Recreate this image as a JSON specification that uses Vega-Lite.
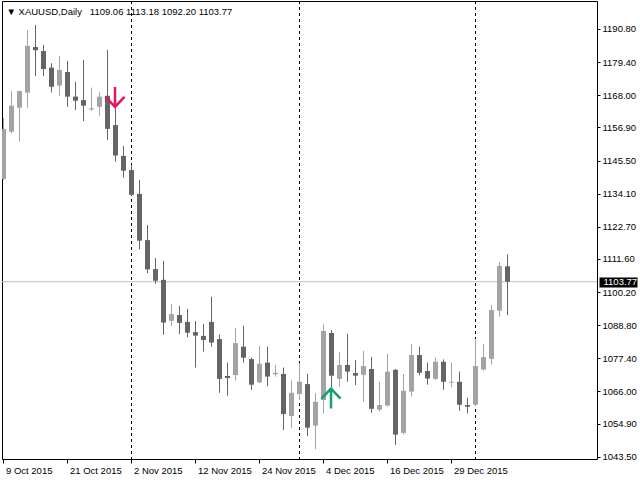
{
  "$schema": "https://vega.github.io/schema/vega-lite/v6.json",
  "width": 595,
  "height": 458,
  "autosize": "none",
  "padding": {"left": 2, "top": 1, "right": 43, "bottom": 21},
  "background": "white",
  "title": {
    "text": "▼ XAUUSD,Daily\u00a0\u00a0\u00a01109.06 1113.18 1092.20 1103.77",
    "anchor": "start",
    "frame": "group",
    "offset": -13.5,
    "dy": 10.5,
    "baseline": "alphabetic",
    "dx": 4.5,
    "font": "Liberation Sans",
    "fontSize": 9.5,
    "fontWeight": "normal",
    "color": "black"
  },
  "data": {
    "values": [
      {"date": "2015-10-09", "o": 1139.1, "h": 1160.1, "l": 1138.8, "c": 1156.4},
      {"date": "2015-10-12", "o": 1155.4, "h": 1169.4, "l": 1154.9, "c": 1164.4},
      {"date": "2015-10-13", "o": 1163.7, "h": 1169.6, "l": 1152.0, "c": 1169.4},
      {"date": "2015-10-14", "o": 1168.9, "h": 1190.5, "l": 1163.7, "c": 1185.0},
      {"date": "2015-10-15", "o": 1184.6, "h": 1192.2, "l": 1174.6, "c": 1183.5},
      {"date": "2015-10-16", "o": 1183.2, "h": 1185.3, "l": 1174.6, "c": 1177.0},
      {"date": "2015-10-19", "o": 1177.5, "h": 1179.0, "l": 1168.9, "c": 1170.9},
      {"date": "2015-10-20", "o": 1171.3, "h": 1181.5, "l": 1167.8, "c": 1176.7},
      {"date": "2015-10-21", "o": 1176.0, "h": 1179.8, "l": 1164.0, "c": 1167.5},
      {"date": "2015-10-22", "o": 1167.5, "h": 1172.6, "l": 1162.9, "c": 1166.1},
      {"date": "2015-10-23", "o": 1166.3, "h": 1180.1, "l": 1159.1, "c": 1164.4},
      {"date": "2015-10-26", "o": 1163.1, "h": 1170.6, "l": 1162.6, "c": 1163.5},
      {"date": "2015-10-27", "o": 1164.0, "h": 1169.2, "l": 1160.9, "c": 1167.5},
      {"date": "2015-10-28", "o": 1167.8, "h": 1183.6, "l": 1152.6, "c": 1156.4},
      {"date": "2015-10-29", "o": 1157.7, "h": 1163.5, "l": 1145.1, "c": 1147.2},
      {"date": "2015-10-30", "o": 1147.1, "h": 1150.5, "l": 1139.6, "c": 1142.0},
      {"date": "2015-11-02", "o": 1142.2, "h": 1144.0, "l": 1133.4, "c": 1133.7},
      {"date": "2015-11-03", "o": 1134.0, "h": 1138.8, "l": 1114.9, "c": 1117.9},
      {"date": "2015-11-04", "o": 1118.1, "h": 1123.3, "l": 1106.7, "c": 1108.0},
      {"date": "2015-11-05", "o": 1108.1, "h": 1111.9, "l": 1103.0, "c": 1104.1},
      {"date": "2015-11-06", "o": 1104.4, "h": 1110.9, "l": 1085.5, "c": 1089.7},
      {"date": "2015-11-09", "o": 1090.3, "h": 1096.1, "l": 1088.6, "c": 1092.6},
      {"date": "2015-11-10", "o": 1092.3, "h": 1095.4, "l": 1085.7, "c": 1089.6},
      {"date": "2015-11-11", "o": 1089.9, "h": 1094.4, "l": 1084.6, "c": 1086.2},
      {"date": "2015-11-12", "o": 1086.4, "h": 1090.2, "l": 1074.2, "c": 1085.2},
      {"date": "2015-11-13", "o": 1085.1, "h": 1089.2, "l": 1079.7, "c": 1083.7},
      {"date": "2015-11-16", "o": 1089.9, "h": 1098.6, "l": 1081.4, "c": 1082.8},
      {"date": "2015-11-17", "o": 1084.0, "h": 1085.6, "l": 1065.5, "c": 1070.3},
      {"date": "2015-11-18", "o": 1071.3, "h": 1075.9, "l": 1064.5, "c": 1070.6},
      {"date": "2015-11-19", "o": 1071.6, "h": 1087.9, "l": 1069.7, "c": 1082.6},
      {"date": "2015-11-20", "o": 1081.4, "h": 1088.6, "l": 1075.9, "c": 1077.6},
      {"date": "2015-11-23", "o": 1077.1, "h": 1077.6, "l": 1066.5, "c": 1068.3},
      {"date": "2015-11-24", "o": 1069.1, "h": 1081.6, "l": 1068.8, "c": 1075.5},
      {"date": "2015-11-25", "o": 1075.9, "h": 1081.4, "l": 1067.8, "c": 1071.1},
      {"date": "2015-11-26", "o": 1071.9, "h": 1075.1, "l": 1071.1, "c": 1072.4},
      {"date": "2015-11-27", "o": 1072.0, "h": 1074.2, "l": 1052.7, "c": 1058.2},
      {"date": "2015-11-30", "o": 1057.5, "h": 1069.9, "l": 1053.3, "c": 1065.5},
      {"date": "2015-12-01", "o": 1065.1, "h": 1075.7, "l": 1063.0, "c": 1069.3},
      {"date": "2015-12-02", "o": 1068.5, "h": 1072.0, "l": 1050.6, "c": 1053.5},
      {"date": "2015-12-03", "o": 1054.2, "h": 1065.4, "l": 1046.1, "c": 1062.4},
      {"date": "2015-12-04", "o": 1063.0, "h": 1089.2, "l": 1058.4, "c": 1086.8},
      {"date": "2015-12-07", "o": 1086.1, "h": 1087.1, "l": 1067.5, "c": 1071.4},
      {"date": "2015-12-08", "o": 1070.3, "h": 1079.6, "l": 1067.6, "c": 1075.1},
      {"date": "2015-12-09", "o": 1075.1, "h": 1085.8, "l": 1069.3, "c": 1072.8},
      {"date": "2015-12-10", "o": 1072.3, "h": 1076.8, "l": 1068.2, "c": 1071.4},
      {"date": "2015-12-11", "o": 1071.7, "h": 1079.9, "l": 1062.4, "c": 1074.7},
      {"date": "2015-12-14", "o": 1073.7, "h": 1077.8, "l": 1058.6, "c": 1060.0},
      {"date": "2015-12-15", "o": 1059.7, "h": 1069.3, "l": 1059.1, "c": 1061.3},
      {"date": "2015-12-16", "o": 1061.1, "h": 1079.0, "l": 1060.8, "c": 1072.8},
      {"date": "2015-12-17", "o": 1073.4, "h": 1073.7, "l": 1047.6, "c": 1051.1},
      {"date": "2015-12-18", "o": 1051.7, "h": 1072.0, "l": 1051.1, "c": 1066.2},
      {"date": "2015-12-21", "o": 1065.9, "h": 1082.3, "l": 1064.2, "c": 1078.5},
      {"date": "2015-12-22", "o": 1078.5, "h": 1081.4, "l": 1071.5, "c": 1072.4},
      {"date": "2015-12-23", "o": 1073.0, "h": 1075.9, "l": 1068.3, "c": 1070.4},
      {"date": "2015-12-24", "o": 1070.3, "h": 1077.6, "l": 1069.9, "c": 1076.2},
      {"date": "2015-12-28", "o": 1076.2, "h": 1077.0, "l": 1066.5, "c": 1069.3},
      {"date": "2015-12-29", "o": 1069.0, "h": 1075.9, "l": 1067.4, "c": 1069.3},
      {"date": "2015-12-30", "o": 1069.3, "h": 1072.8, "l": 1059.3, "c": 1061.4},
      {"date": "2015-12-31", "o": 1061.3, "h": 1063.8, "l": 1058.4, "c": 1060.7},
      {"date": "2016-01-04", "o": 1061.4, "h": 1084.1, "l": 1061.0, "c": 1074.7},
      {"date": "2016-01-05", "o": 1073.5, "h": 1082.3, "l": 1073.2, "c": 1077.8},
      {"date": "2016-01-06", "o": 1077.2, "h": 1095.7, "l": 1075.2, "c": 1094.0},
      {"date": "2016-01-07", "o": 1093.8, "h": 1110.6, "l": 1091.7, "c": 1109.2},
      {"date": "2016-01-08", "o": 1109.06, "h": 1113.18, "l": 1092.20, "c": 1103.77}
    ]
  },
  "layer": [
    {
      "data": {"values": [{"date": "2015-11-02"}, {"date": "2015-12-01"}, {"date": "2016-01-04"}]},
      "mark": {"type": "rule", "color": "black", "strokeWidth": 1, "strokeDash": [3, 3], "xOffset": -2.5},
      "encoding": {
        "x": {"field": "date", "type": "ordinal", "timeUnit": "utcyearmonthdate"}
      }
    },
    {
      "data": {"values": [{"p": 1103.77}]},
      "mark": {"type": "rule", "color": "#c0c0c0", "strokeWidth": 1},
      "encoding": {
        "y": {
          "field": "p",
          "type": "quantitative",
          "axis": {
            "orient": "right",
            "values": [1103.77],
            "format": ".2f",
            "offset": 2,
            "tickSize": 38,
            "tickWidth": 10,
            "tickColor": "black",
            "labelColor": "white",
            "labelPadding": -34,
            "labelFlush": false,
            "domain": false,
            "grid": false,
            "title": null
          }
        }
      }
    },
    {
      "mark": {"type": "rule", "strokeWidth": 1, "xOffset": -2.5, "clip": true},
      "encoding": {
        "x": {
          "field": "date",
          "type": "ordinal",
          "timeUnit": "utcyearmonthdate",
          "scale": {"type": "band", "paddingInner": 0, "paddingOuter": 0, "range": [0, 512]},
          "axis": {
            "values": [
              {"year": 2015, "month": 10, "date": 9, "utc": true},
              {"year": 2015, "month": 10, "date": 21, "utc": true},
              {"year": 2015, "month": 11, "date": 2, "utc": true},
              {"year": 2015, "month": 11, "date": 12, "utc": true},
              {"year": 2015, "month": 11, "date": 24, "utc": true},
              {"year": 2015, "month": 12, "date": 4, "utc": true},
              {"year": 2015, "month": 12, "date": 16, "utc": true},
              {"year": 2015, "month": 12, "date": 29, "utc": true}
            ],
            "labelExpr": "utcFormat(datum.value, '%-d %b %Y')",
            "labelAlign": "left",
            "labelBaseline": "top",
            "labelPadding": 2,
            "labelOverlap": false,
            "labelFlush": false,
            "labelAngle": 0,
            "tickSize": 4,
            "bandPosition": 0.1875,
            "domain": false,
            "grid": false,
            "title": null
          }
        },
        "y": {
          "field": "l",
          "type": "quantitative",
          "scale": {"domain": [1042.70, 1200.44], "nice": false, "zero": false},
          "axis": {
            "orient": "right",
            "values": [1043.5, 1054.9, 1066.0, 1077.4, 1088.8, 1100.2, 1111.6, 1122.7, 1134.1, 1145.5, 1156.9, 1168.0, 1179.4, 1190.8],
            "format": ".2f",
            "tickSize": 3,
            "labelPadding": 2,
            "labelFlush": false,
            "labelOverlap": false,
            "domain": false,
            "grid": false,
            "title": null
          }
        },
        "y2": {"field": "h"},
        "color": {"condition": {"test": "datum.c < datum.o", "value": "#646464"}, "value": "#a4a4a4"}
      }
    },
    {
      "mark": {"type": "bar", "width": 5, "xOffset": -2.5, "clip": true},
      "encoding": {
        "x": {"field": "date", "type": "ordinal", "timeUnit": "utcyearmonthdate"},
        "y": {"field": "o", "type": "quantitative", "axis": null},
        "y2": {"field": "c"},
        "color": {"condition": {"test": "datum.c < datum.o", "value": "#646464"}, "value": "#a4a4a4"}
      }
    },
    {
      "data": {
        "values": [
          {"date": "2015-10-29", "p": 1167.4, "dir": "down"},
          {"date": "2015-12-07", "p": 1063.5, "dir": "up"}
        ]
      },
      "mark": {"type": "point", "filled": false, "size": 400, "strokeWidth": 2.5, "opacity": 1, "xOffset": -3},
      "encoding": {
        "x": {"field": "date", "type": "ordinal", "timeUnit": "utcyearmonthdate"},
        "y": {"field": "p", "type": "quantitative", "axis": null},
        "shape": {
          "field": "dir",
          "type": "nominal",
          "scale": {"domain": ["down", "up"], "range": ["M0,-1L0,1M-0.95,0L0,1L0.95,0", "M0,1L0,-1M-0.95,0L0,-1L0.95,0"]},
          "legend": null
        },
        "color": {
          "field": "dir",
          "type": "nominal",
          "scale": {"domain": ["down", "up"], "range": ["#e3165e", "#11a06e"]},
          "legend": null
        }
      }
    }
  ],
  "resolve": {"axis": {"y": "independent"}},
  "config": {
    "view": {"stroke": "black", "strokeWidth": 1},
    "axis": {"labelFont": "Liberation Sans", "labelFontSize": 9.5, "labelColor": "black", "tickColor": "black", "tickWidth": 1}
  }
}
